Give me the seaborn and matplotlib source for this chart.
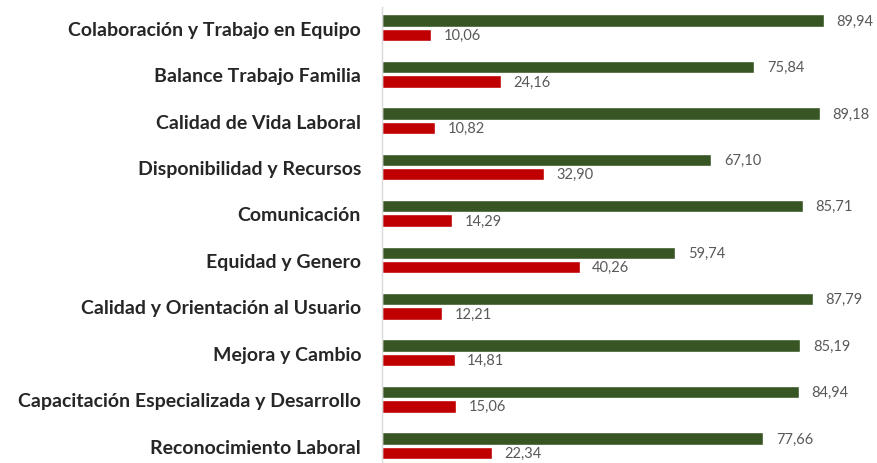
import matplotlib
matplotlib.use("Agg")
import matplotlib.pyplot as plt
import pandas as pd
import seaborn as sns

categorias = [
    "Colaboración y Trabajo en Equipo",
    "Balance Trabajo Familia",
    "Calidad de Vida Laboral",
    "Disponibilidad y Recursos",
    "Comunicación",
    "Equidad y Genero",
    "Calidad y Orientación al Usuario",
    "Mejora y Cambio",
    "Capacitación Especializada y Desarrollo",
    "Reconocimiento Laboral",
]
favorable = [89.94, 75.84, 89.18, 67.10, 85.71, 59.74, 87.79, 85.19, 84.94, 77.66]
desfavorable = [10.06, 24.16, 10.82, 32.90, 14.29, 40.26, 12.21, 14.81, 15.06, 22.34]
series = ["Favorable", "Desfavorable"]

df = pd.DataFrame({
    "categoria": categorias * 2,
    "valor": favorable + desfavorable,
    "serie": [series[0]] * len(categorias) + [series[1]] * len(categorias),
})

sns.set_style("white")
plt.rcParams["font.family"] = ["Lato", "DejaVu Sans"]

fig = plt.figure(figsize=(8.78, 4.64), dpi=100)
ax = fig.add_axes([0.435, 0.0, 0.565, 0.983])

sns.barplot(data=df, y="categoria", x="valor", hue="serie", orient="h",
            palette=["#375623", "#C00000"], saturation=1, width=0.62, gap=0.14,
            order=categorias, hue_order=series, legend=False, ax=ax)

for cont in ax.containers:
    ax.bar_label(cont, labels=[f"{v:.2f}".replace(".", ",") for v in cont.datavalues],
                 padding=9, color="#595959", fontsize=10.5)

ax.set_xlim(0, 101)
ax.set_ylim(9.375, -0.45)
ax.set_xlabel("")
ax.set_ylabel("")
ax.set_xticks([])
ax.tick_params(axis="y", length=0, pad=15)
for lab in ax.get_yticklabels():
    lab.set_fontweight("bold")
    lab.set_fontsize(14)
    lab.set_color("#262626")
for s in ["top", "right", "bottom"]:
    ax.spines[s].set_visible(False)
ax.spines["left"].set_color("#d9d9d9")
ax.spines["left"].set_linewidth(1)

fig.savefig("out.png", dpi=100)
